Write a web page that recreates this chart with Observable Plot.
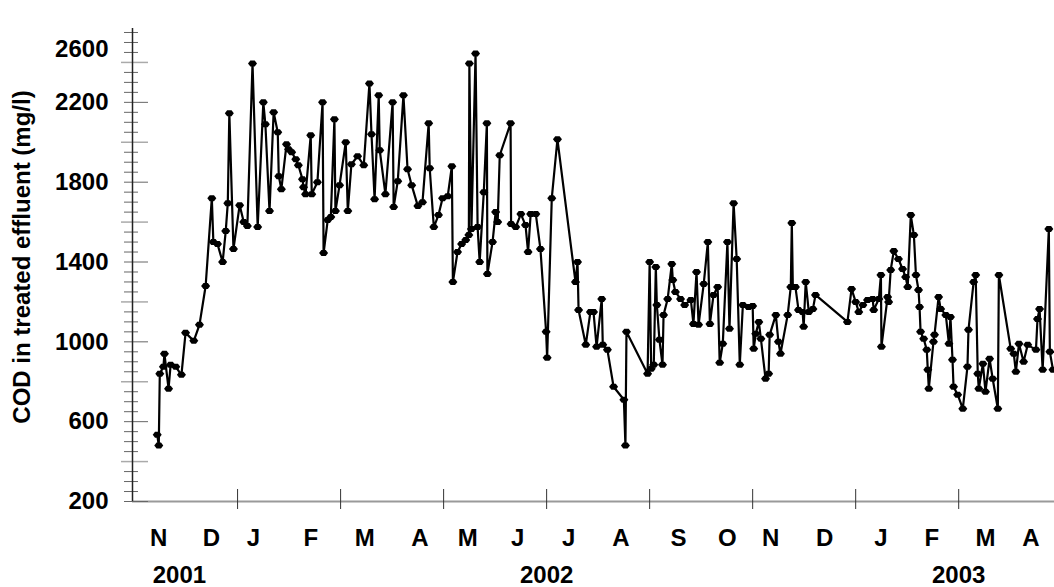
<!DOCTYPE html>
<html><head><meta charset="utf-8">
<script src="https://cdn.jsdelivr.net/npm/d3@7"></script>
<script src="https://cdn.jsdelivr.net/npm/@observablehq/plot@0.6"></script>
<style>body{margin:0;background:#fff}</style>
</head><body><div id="chart"></div>
<script>
// time in months since 1 Nov 2001 (2 = 1 Jan 2002, 14 = 1 Jan 2003)
const t = [0.44,0.47,0.49,0.56,0.58,0.66,0.70,0.80,0.91,0.99,
1.15,1.26,1.38,1.50,1.53,1.61,1.71,1.77,1.81,1.84,
1.92,2.04,2.12,2.19,2.29,2.39,2.50,2.54,2.62,2.70,
2.78,2.80,2.85,2.95,2.99,3.05,3.13,3.18,3.26,3.28,
3.32,3.42,3.44,3.55,3.65,3.67,3.75,3.81,3.88,3.90,
3.98,4.10,4.14,4.21,4.33,4.45,4.56,4.60,4.66,4.74,
4.76,4.87,5.01,5.03,5.11,5.22,5.30,5.38,5.50,5.59,
5.71,5.73,5.81,5.90,5.98,6.08,6.16,6.18,6.27,6.35,
6.43,6.49,6.50,6.54,6.62,6.66,6.70,6.78,6.84,6.85,
6.95,7.01,7.05,7.09,7.30,7.31,7.40,7.50,7.59,7.64,
7.69,7.79,7.88,7.99,8.01,8.10,8.21,8.56,8.60,8.62,
8.76,8.85,8.91,8.97,9.07,9.09,9.18,9.30,9.50,9.53,
9.55,9.96,10.00,10.03,10.08,10.12,10.14,10.19,10.25,10.27,
10.35,10.43,10.45,10.50,10.60,10.68,10.80,10.85,10.91,10.95,
11.05,11.13,11.17,11.24,11.32,11.36,11.42,11.51,11.55,11.63,
11.69,11.75,11.81,11.92,12.00,12.02,12.06,12.12,12.16,12.25,
12.31,12.33,12.45,12.50,12.54,12.68,12.74,12.76,12.78,12.83,
12.89,12.97,12.99,13.03,13.09,13.17,13.22,13.84,13.92,14.00,
14.06,14.14,14.23,14.33,14.35,14.45,14.49,14.50,14.62,14.64,
14.68,14.74,14.83,14.91,14.97,15.01,15.07,15.13,15.17,15.22,
15.24,15.26,15.32,15.38,15.40,15.42,15.51,15.53,15.61,15.65,
15.75,15.81,15.84,15.88,15.90,15.98,16.08,16.17,16.19,16.29,
16.33,16.37,16.39,16.47,16.52,16.60,16.66,16.76,16.78,17.01,
17.07,17.11,17.17,17.26,17.34,17.50,17.53,17.57,17.63,17.75,
17.77,17.83];
const cod = [535,480,840,875,940,765,885,875,835,1045,
1005,1085,1280,1720,1500,1490,1400,1555,1695,2145,
1465,1685,1600,1580,2395,1575,2200,2090,1655,2150,
2050,1830,1765,1990,1965,1950,1915,1885,1815,1775,
1740,2035,1740,1800,2200,1445,1610,1625,2115,1655,
1785,2000,1655,1890,1930,1885,2295,2040,1715,2235,
1960,1740,2200,1675,1805,2235,1865,1785,1680,1700,
2095,1870,1575,1635,1720,1730,1880,1300,1450,1490,
1510,1535,2395,1565,2445,1575,1400,1750,2095,1340,
1500,1650,1600,1935,2095,1590,1575,1640,1585,1450,
1640,1640,1465,1050,920,1720,2015,1300,1400,1160,
985,1150,1150,975,1215,985,960,775,710,480,
1050,840,1400,865,885,1375,1185,1010,885,1135,
1215,1390,1310,1250,1215,1185,1210,1090,1350,1085,
1290,1500,1090,1235,1275,895,990,1500,1065,1695,
1415,885,1185,1175,1180,965,1040,1100,1015,815,
840,1035,1135,1000,940,1135,1275,1595,1275,1275,
1160,1150,1075,1300,1150,1165,1235,1100,1265,1200,
1150,1185,1210,1215,1160,1215,1335,975,1225,1200,
1360,1455,1415,1365,1325,1275,1635,1535,1335,1260,
1175,1050,1015,960,860,765,1000,1035,1225,1165,
1135,990,1125,910,775,735,665,875,1060,1300,
1335,840,765,890,750,915,815,665,1335,965,
940,850,990,900,985,960,1115,1165,860,1565,
950,860];

const monthLabels = ["N","D","J","F","M","A","M","J","J","A","S","O","N","D","J","F","M","A"];
const monthPos = [0.47,1.49,2.31,3.42,4.47,5.54,6.47,7.44,8.43,9.44,10.56,11.51,12.35,13.40,14.49,15.48,16.52,17.40];
const yearLabels = ["2001","2002","2003"];
const yearPos = [0.87,8.0,16.0];
const xTicks = [2,4,6,8,10,12,14,16];
const yLabelTicks = [200,600,1000,1400,1800,2200];
const yTopLabelValue = 2465, yTopLabel = "2600";
const yLongTicks = [400,800,1200,1600,2000,2400];
const yMinorTicks = d3.range(250, 2600, 50).filter(v => v % 200 !== 0);
const yTitle = "COD in treated effluent (mg/l)";
const xDomain = [-0.04, 17.86];
const yDomain = [200, 2570];

const data = t.map((m, i) => ({t: m, cod: cod[i]}));
const marker = {draw(ctx) {
  ctx.moveTo(-4.5, 0); ctx.lineTo(-2.2, -3); ctx.lineTo(2.2, -3);
  ctx.lineTo(4.5, 0); ctx.lineTo(2.2, 3); ctx.lineTo(-2.2, 3); ctx.closePath();
}};
const font = {fontSize: 24, fontWeight: "bold"};

const chart = Plot.plot({
  width: 1054, height: 587,
  marginLeft: 132, marginRight: 0, marginTop: 28, marginBottom: 86,
  style: {fontFamily: "'Liberation Sans', Arial, sans-serif", fontSize: "24px", fontWeight: "bold", background: "#fff", color: "#000", overflow: "visible"},
  x: {domain: xDomain, label: null},
  y: {domain: yDomain, label: null},
  marks: [
    Plot.ruleY([yDomain[0]], {stroke: "#9a9a9a", strokeWidth: 2}),
    Plot.axisX(xTicks, {anchor: "bottom", tickSize: 20, dy: -12, stroke: "#333", fill: "none", label: null}),
    Plot.axisX(monthPos, {anchor: "bottom", tickSize: 0, tickPadding: 27, label: null, ...font,
      tickFormat: d => monthLabels[monthPos.indexOf(d)]}),
    Plot.axisX(yearPos, {anchor: "bottom", tickSize: 0, tickPadding: 64, label: null, ...font,
      tickFormat: d => yearLabels[yearPos.indexOf(d)]}),
    Plot.axisY(yMinorTicks, {anchor: "left", tickSize: 14, dx: 6, stroke: "#666", fill: "none", label: null}),
    Plot.axisY(yLongTicks, {anchor: "left", tickSize: 27, dx: 16, stroke: "#aaa", strokeWidth: 1.5, fill: "none", label: null}),
    Plot.axisY(yLabelTicks, {anchor: "left", tickSize: 24, dx: 16, stroke: "#666", fill: "none", label: null}),
    Plot.axisY([...yLabelTicks, yTopLabelValue], {anchor: "left", tickSize: 0, tickPadding: 24, label: null, ...font,
      tickFormat: d => d === yTopLabelValue ? yTopLabel : String(d)}),
    Plot.ruleX([xDomain[0]], {stroke: "#222", strokeWidth: 1.5}),
    Plot.line(data, {x: "t", y: "cod", stroke: "#000", strokeWidth: 2.2}),
    Plot.dot(data, {x: "t", y: "cod", symbol: marker, fill: "#000", stroke: "none", r: 3}),
    Plot.text([yTitle], {frameAnchor: "left", rotate: -90, dx: -110, dy: -8, textAnchor: "middle", ...font, fill: "#000"})
  ]
});
document.getElementById("chart").appendChild(chart);
</script>
</body></html>
